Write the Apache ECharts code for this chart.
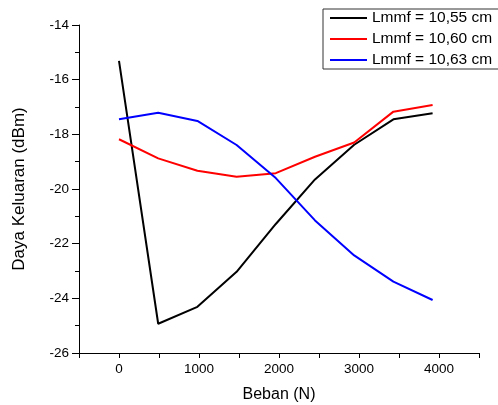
<!DOCTYPE html>
<html>
<head>
<meta charset="utf-8">
<script src="https://cdn.jsdelivr.net/npm/echarts@6/dist/echarts.min.js"></script>
<style>html,body{margin:0;padding:0;background:#fff}#c{width:498px;height:405px}</style>
</head>
<body>
<div id="c"></div>
<script>
// Load (N)
var loads = [0, 490, 980, 1470, 1960, 2450, 2940, 3430, 3920];
var seriesNames = ['Lmmf = 10,55 cm', 'Lmmf = 10,60 cm', 'Lmmf = 10,63 cm'];
var power1055 = [-15.31, -24.93, -24.31, -23.03, -21.28, -19.65, -18.38, -17.45, -17.23];
var power1060 = [-18.18, -18.88, -19.33, -19.55, -19.42, -18.82, -18.30, -17.17, -16.93];
var power1063 = [-17.45, -17.21, -17.51, -18.39, -19.60, -21.15, -22.43, -23.39, -24.06];
var colors = ['#000000', '#ff0000', '#0000ff'];

function pairs(xs, ys) { return xs.map(function (x, i) { return [x, ys[i]]; }); }
var font = 'Liberation Sans, Arial, sans-serif';
var allData = [power1055, power1060, power1063];

var chart = echarts.init(document.getElementById('c'), null, {renderer: 'canvas'});
chart.setOption({
  animation: false,
  backgroundColor: '#ffffff',
  textStyle: {fontFamily: font},
  grid: {left: 79, right: 19, top: 25, bottom: 52, containLabel: false, outerBoundsMode: 'none'},
  legend: {
    orient: 'vertical',
    left: 323, top: 9,
    padding: [1, 10, 1, 7],
    itemGap: 5,
    icon: 'rect',
    itemWidth: 37, itemHeight: 2,
    borderColor: '#333', borderWidth: 1,
    textStyle: {fontFamily: font, fontSize: 15.5, color: '#000', lineHeight: 16},
    data: seriesNames
  },
  xAxis: {
    type: 'value', min: -500, max: 4500, interval: 500,
    name: 'Beban (N)', nameLocation: 'middle', nameGap: 34,
    nameTextStyle: {fontFamily: font, fontSize: 16, color: '#000'},
    axisLine: {show: true, onZero: false, lineStyle: {color: '#000', width: 1}},
    axisTick: {show: true, length: 5, lineStyle: {color: '#000'}},
    axisLabel: {fontFamily: font, fontSize: 13.5, color: '#000', margin: 9,
      formatter: function (v) { return (v >= 0 && v % 1000 === 0) ? String(v) : ''; }},
    splitLine: {show: false}
  },
  yAxis: {
    type: 'value', min: -26, max: -14, interval: 2,
    name: 'Daya Keluaran (dBm)', nameLocation: 'middle', nameGap: 51,
    nameTextStyle: {fontFamily: font, fontSize: 17, color: '#000'},
    axisLine: {show: true, onZero: false, lineStyle: {color: '#000', width: 1}},
    axisTick: {show: true, length: 7, lineStyle: {color: '#000'}},
    minorTick: {show: true, splitNumber: 2, length: 4, lineStyle: {color: '#000'}},
    axisLabel: {fontFamily: font, fontSize: 13.5, color: '#000', margin: 10},
    splitLine: {show: false}
  },
  series: seriesNames.map(function (n, i) {
    return {
      name: n, type: 'line',
      data: pairs(loads, allData[i]),
      symbol: 'none', showSymbol: false,
      color: colors[i],
      lineStyle: {color: colors[i], width: 2}
    };
  })
});
</script>
</body>
</html>
